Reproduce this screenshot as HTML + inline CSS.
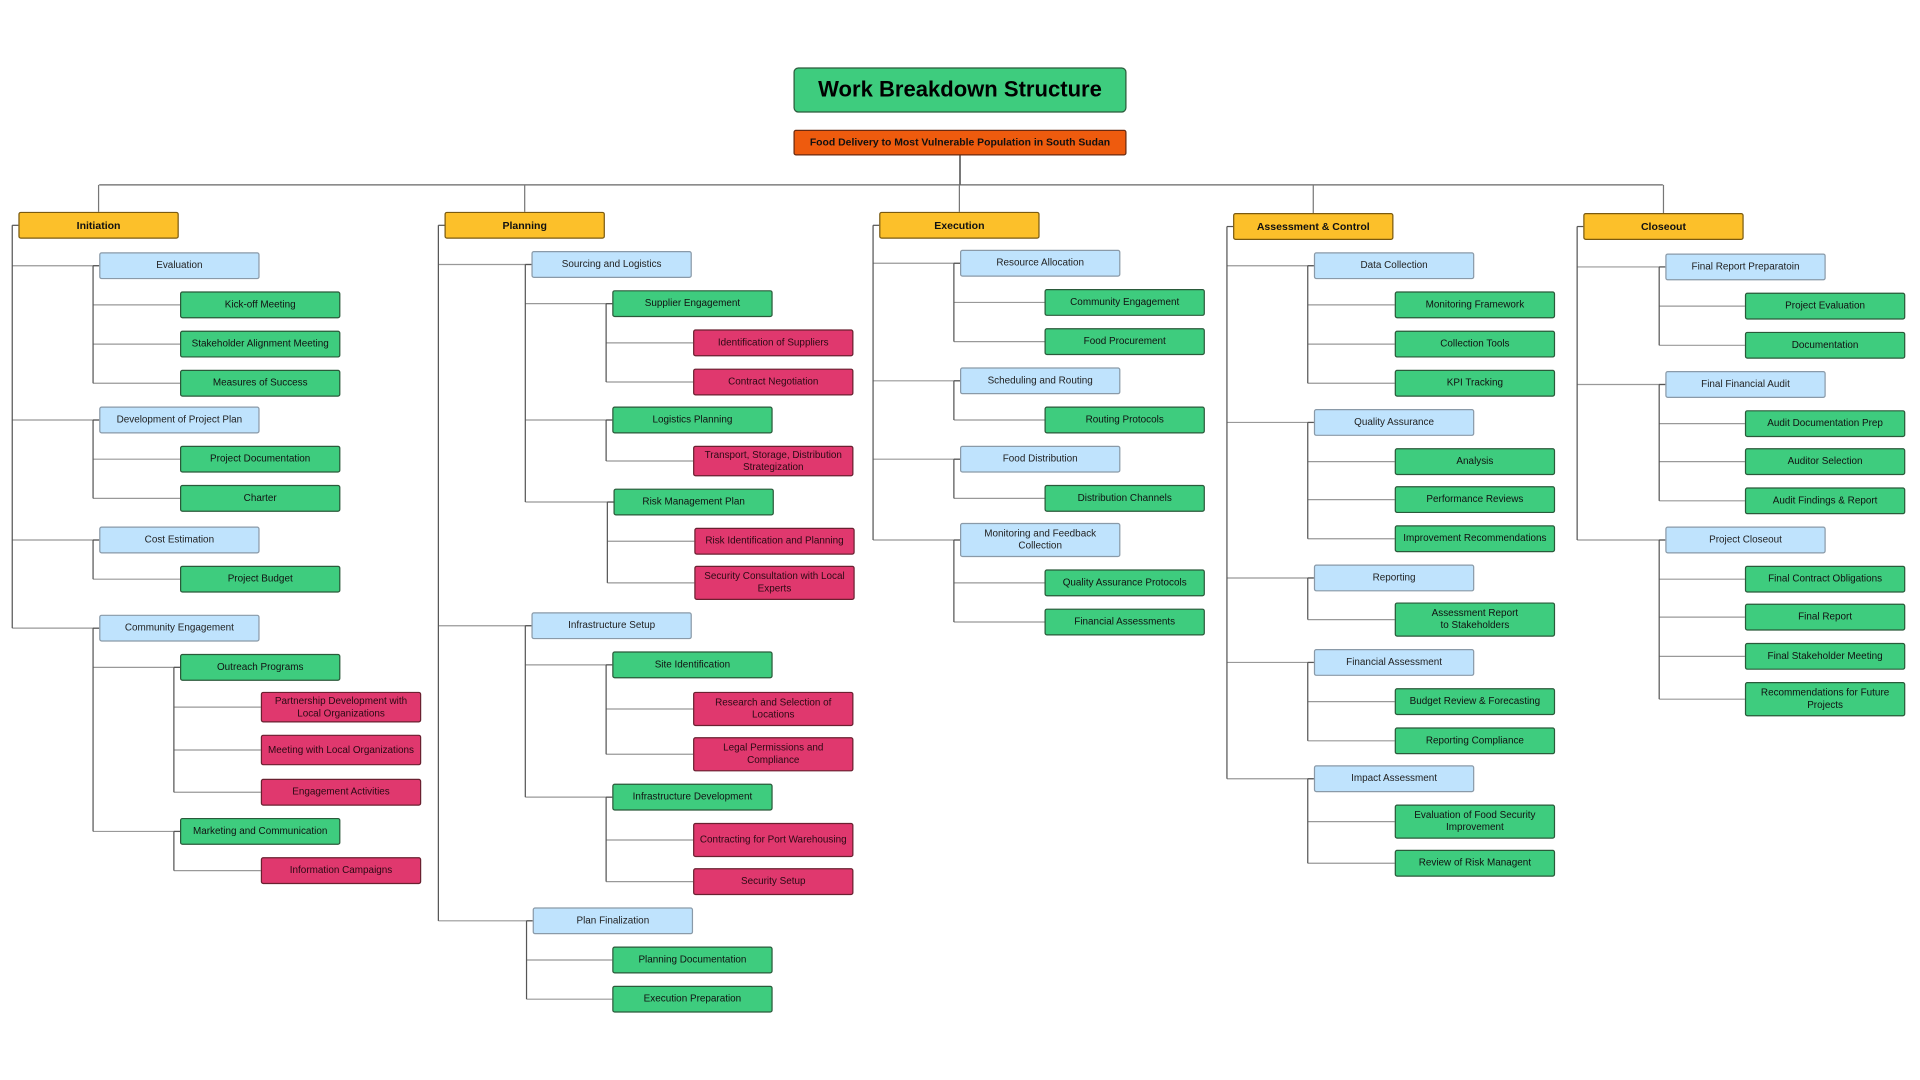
<!DOCTYPE html>
<html><head><meta charset="utf-8"><style>
html,body{margin:0;padding:0;background:#fff;overflow:hidden}
#wrap{position:absolute;left:0;top:0;width:1568px;height:882px;transform:scale(1.22449);transform-origin:0 0;font-family:"Liberation Sans",sans-serif}
.n{position:absolute;width:131px;height:22px;display:flex;align-items:center;justify-content:center;text-align:center;font-size:8.1px;border-radius:2px;box-sizing:border-box;line-height:1.2;color:#111;padding:0 2px;z-index:2}
.l1{background:#fcc02a;border:1px solid #7a5a10;font-weight:bold;font-size:8.6px}
.l2{background:#bfe3fd;border:1px solid #8a9aa8;color:#222}
.l3{background:#3ecc7e;border:1px solid #2a5a3a}
.l4{background:#e0386e;border:1px solid #6a2030;color:#2a0a14}
svg{position:absolute;left:0;top:0;z-index:1}
</style></head><body><div id="wrap">
<svg id="lines" width="1568" height="882"></svg>
<div class="n" style="left:648px;top:55px;width:272px;height:37px;background:#3ecc7e;border:1px solid #2a5a3a;border-radius:4px;font-size:18px;font-weight:bold;color:#000">Work Breakdown Structure</div>
<div class="n" style="left:648px;top:106px;width:272px;height:21px;background:#ee5b0e;border:1px solid #6a2a10;font-weight:bold;font-size:8.5px;color:#111">Food Delivery to Most Vulnerable Population in South Sudan</div>

<div class="n l1" style="left:15px;top:173px">Initiation</div>
<div class="n l2" style="left:81px;top:206px">Evaluation</div>
<div class="n l3" style="left:147px;top:238px">Kick-off Meeting</div>
<div class="n l3" style="left:147px;top:270px">Stakeholder Alignment Meeting</div>
<div class="n l3" style="left:147px;top:302px">Measures of Success</div>
<div class="n l2" style="left:81px;top:332px">Development of Project Plan</div>
<div class="n l3" style="left:147px;top:364px">Project Documentation</div>
<div class="n l3" style="left:147px;top:396px">Charter</div>
<div class="n l2" style="left:81px;top:430px">Cost Estimation</div>
<div class="n l3" style="left:147px;top:462px">Project Budget</div>
<div class="n l2" style="left:81px;top:502px">Community Engagement</div>
<div class="n l3" style="left:147px;top:534px">Outreach Programs</div>
<div class="n l4" style="left:213px;top:565px;height:25px">Partnership Development with Local Organizations</div>
<div class="n l4" style="left:213px;top:600px;height:25px">Meeting with Local Organizations</div>
<div class="n l4" style="left:213px;top:636px">Engagement Activities</div>
<div class="n l3" style="left:147px;top:668px">Marketing and Communication</div>
<div class="n l4" style="left:213px;top:700px">Information Campaigns</div>

<div class="n l1" style="left:363px;top:173px">Planning</div>
<div class="n l2" style="left:434px;top:205px">Sourcing and Logistics</div>
<div class="n l3" style="left:500px;top:237px">Supplier Engagement</div>
<div class="n l4" style="left:566px;top:269px">Identification of Suppliers</div>
<div class="n l4" style="left:566px;top:301px">Contract Negotiation</div>
<div class="n l3" style="left:500px;top:332px">Logistics Planning</div>
<div class="n l4" style="left:566px;top:364px;height:25px">Transport, Storage, Distribution Strategization</div>
<div class="n l3" style="left:501px;top:399px">Risk Management Plan</div>
<div class="n l4" style="left:567px;top:431px">Risk Identification and Planning</div>
<div class="n l4" style="left:567px;top:462px;height:28px">Security Consultation with Local Experts</div>
<div class="n l2" style="left:434px;top:500px">Infrastructure Setup</div>
<div class="n l3" style="left:500px;top:532px">Site Identification</div>
<div class="n l4" style="left:566px;top:565px;height:28px">Research and Selection of Locations</div>
<div class="n l4" style="left:566px;top:602px;height:28px">Legal Permissions and Compliance</div>
<div class="n l3" style="left:500px;top:640px">Infrastructure Development</div>
<div class="n l4" style="left:566px;top:672px;height:28px">Contracting for Port Warehousing</div>
<div class="n l4" style="left:566px;top:709px">Security Setup</div>
<div class="n l2" style="left:435px;top:741px">Plan Finalization</div>
<div class="n l3" style="left:500px;top:773px">Planning Documentation</div>
<div class="n l3" style="left:500px;top:805px">Execution Preparation</div>

<div class="n l1" style="left:718px;top:173px">Execution</div>
<div class="n l2" style="left:784px;top:204px">Resource Allocation</div>
<div class="n l3" style="left:853px;top:236px">Community Engagement</div>
<div class="n l3" style="left:853px;top:268px">Food Procurement</div>
<div class="n l2" style="left:784px;top:300px">Scheduling and Routing</div>
<div class="n l3" style="left:853px;top:332px">Routing Protocols</div>
<div class="n l2" style="left:784px;top:364px">Food Distribution</div>
<div class="n l3" style="left:853px;top:396px">Distribution Channels</div>
<div class="n l2" style="left:784px;top:427px;height:28px">Monitoring and Feedback Collection</div>
<div class="n l3" style="left:853px;top:465px">Quality Assurance Protocols</div>
<div class="n l3" style="left:853px;top:497px">Financial Assessments</div>

<div class="n l1" style="left:1007px;top:174px">Assessment &amp; Control</div>
<div class="n l2" style="left:1073px;top:206px">Data Collection</div>
<div class="n l3" style="left:1139px;top:238px">Monitoring Framework</div>
<div class="n l3" style="left:1139px;top:270px">Collection Tools</div>
<div class="n l3" style="left:1139px;top:302px">KPI Tracking</div>
<div class="n l2" style="left:1073px;top:334px">Quality Assurance</div>
<div class="n l3" style="left:1139px;top:366px">Analysis</div>
<div class="n l3" style="left:1139px;top:397px">Performance Reviews</div>
<div class="n l3" style="left:1139px;top:429px">Improvement Recommendations</div>
<div class="n l2" style="left:1073px;top:461px">Reporting</div>
<div class="n l3" style="left:1139px;top:492px;height:28px">Assessment Report<br>to Stakeholders</div>
<div class="n l2" style="left:1073px;top:530px">Financial Assessment</div>
<div class="n l3" style="left:1139px;top:562px">Budget Review &amp; Forecasting</div>
<div class="n l3" style="left:1139px;top:594px">Reporting Compliance</div>
<div class="n l2" style="left:1073px;top:625px">Impact Assessment</div>
<div class="n l3" style="left:1139px;top:657px;height:28px">Evaluation of Food Security Improvement</div>
<div class="n l3" style="left:1139px;top:694px">Review of Risk Managent</div>

<div class="n l1" style="left:1293px;top:174px">Closeout</div>
<div class="n l2" style="left:1360px;top:207px">Final Report Preparatoin</div>
<div class="n l3" style="left:1425px;top:239px">Project Evaluation</div>
<div class="n l3" style="left:1425px;top:271px">Documentation</div>
<div class="n l2" style="left:1360px;top:303px">Final Financial Audit</div>
<div class="n l3" style="left:1425px;top:335px">Audit Documentation Prep</div>
<div class="n l3" style="left:1425px;top:366px">Auditor Selection</div>
<div class="n l3" style="left:1425px;top:398px">Audit Findings &amp; Report</div>
<div class="n l2" style="left:1360px;top:430px">Project Closeout</div>
<div class="n l3" style="left:1425px;top:462px">Final Contract Obligations</div>
<div class="n l3" style="left:1425px;top:493px">Final Report</div>
<div class="n l3" style="left:1425px;top:525px">Final Stakeholder Meeting</div>
<div class="n l3" style="left:1425px;top:557px;height:28px">Recommendations for Future Projects</div>
</div>
<script>
(function(){
var svg=document.getElementById('lines');var s='';
function L(x1,y1,x2,y2,c){s+='<line x1="'+x1+'" y1="'+y1+'" x2="'+x2+'" y2="'+y2+'" stroke="'+(c||'#777')+'" stroke-width="1"/>';}
var nodes=[].slice.call(document.querySelectorAll('.n.l1,.n.l2,.n.l3,.n.l4'));
var info=nodes.map(function(e){var lv=+e.className.match(/l(\d)/)[1];return {lv:lv,x:parseFloat(e.style.left),y:parseFloat(e.style.top),h:parseFloat(e.style.height||22),w:131};});
var stack={};
info.forEach(function(n){n.my=n.y+n.h/2;stack[n.lv]=n;if(n.lv>1){var p=stack[n.lv-1];L(p.x-5,n.my,n.x,n.my,'#999');p.lastY=n.my;}});
info.forEach(function(n){if(n.lastY){L(n.x-5,n.my,n.x-5,n.lastY,'#555');L(n.x-5,n.my,n.x,n.my,'#555');}});
L(784,127,784,151,'#222');L(81,151,1358,151,'#666');
info.filter(function(n){return n.lv==1}).forEach(function(n){L(n.x+65.5,151,n.x+65.5,n.y,'#777');});
svg.innerHTML=s;
})();
</script>
</body></html>
